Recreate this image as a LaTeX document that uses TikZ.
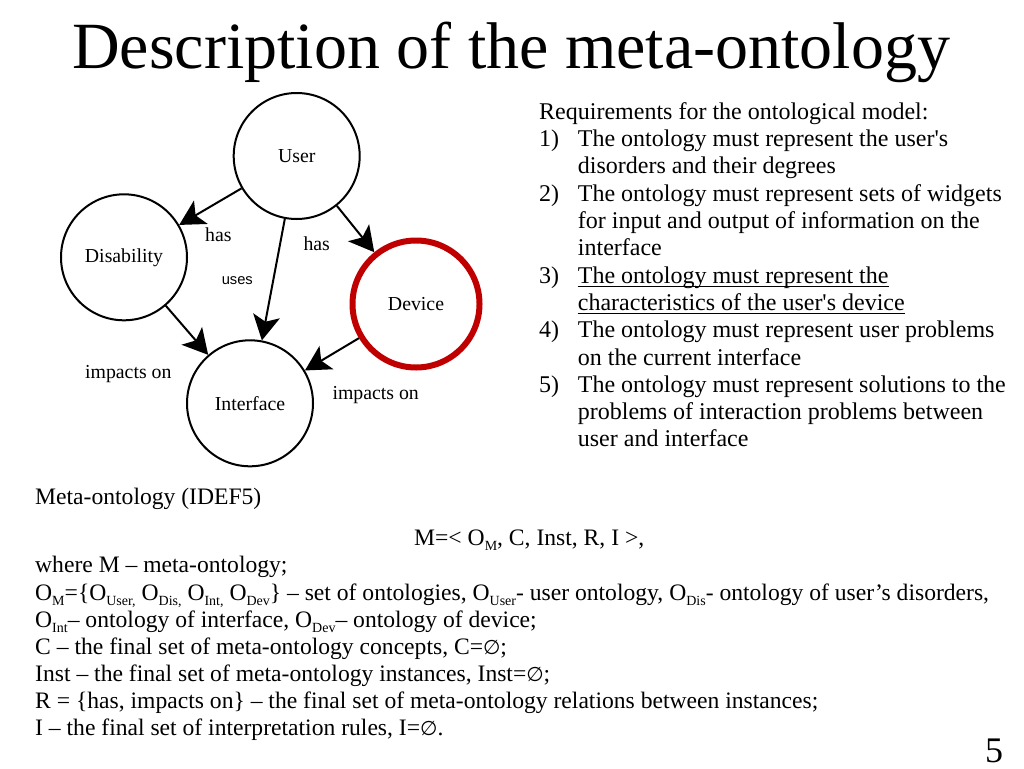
\documentclass[tikz,border=0pt]{standalone}
\usepackage{fontspec}
\setmainfont{Liberation Serif}
\newfontfamily\labsans{Liberation Sans}
\newfontfamily\symf{DejaVu Sans}
\usetikzlibrary{arrows.meta}
\definecolor{devred}{RGB}{192,0,0}
\newcommand{\mysub}[1]{\raisebox{-5pt}{\fontsize{14}{14}\selectfont #1}}
\newcommand{\myempty}{{\symf\fontsize{20}{24}\selectfont ∅}}
\begin{document}
\begin{tikzpicture}[x=1pt,y=-1pt,
  circ/.style={circle,draw,line width=2pt,minimum size=126pt,inner sep=0pt,font=\fontsize{19.8}{22}\selectfont},
  rel/.style={draw,line width=2pt,-{Stealth[length=25pt,width=27pt,inset=6pt]}},
  lab/.style={inner sep=0pt,font=\fontsize{19.8}{22}\selectfont},
  body/.style={inner sep=0pt,anchor=base west,font=\fontsize{24}{27}\selectfont},
  low/.style={inner sep=0pt,anchor=base west,font=\fontsize{23.6}{27}\selectfont},
  uline/.style={line width=1pt},
]
\useasboundingbox (0,0) rectangle (1024,768);

% title
\node[inner sep=0pt,anchor=base west,font=\fontsize{66}{70}\selectfont] (title) at (72,68) {Description of the meta-ontology};

% diagram
\node[circ] (user) at (296.7,156) {User};
\node[circ] (dis) at (124,257.3) {Disability};
\node[circ,draw=devred,line width=6pt,minimum size=127pt] (dev) at (416,304) {Device};
\node[circ] (intf) at (250,403.3) {Interface};

\draw[rel] (user) -- (dis);
\draw[rel] (user) -- (intf);
\draw[rel] (user) -- (dev);
\draw[rel] (dis) -- (intf);
\draw[rel] (dev) -- (intf);

\node[lab] (l1) at (218.3,234.3) {has};
\node[lab] (l2) at (316.7,244) {has};
\node[lab,font=\labsans\fontsize{14.7}{16}\selectfont] (l3) at (237.3,280.7) {uses};
\node[lab] (l4) at (128.3,374) {impacts on};
\node[lab] (l5) at (375.7,395.3) {impacts on};

% requirements
\node[body] (rq) at (539,119) {Requirements for the ontological model:};
\node[body] (n1) at (539,146.3) {1)};
\node[body] (r1a) at (577.7,146.3) {The ontology must represent the user\textquotesingle s};
\node[body] (r1b) at (577.7,173.6) {disorders and their degrees};
\node[body] (n2) at (539,201) {2)};
\node[body] (r2a) at (577.7,201) {The ontology must represent sets of widgets};
\node[body] (r2b) at (577.7,228.3) {for input and output of information on the};
\node[body] (r2c) at (577.7,255.6) {interface};
\node[body] (n3) at (539,283) {3)};
\node[body] (r3a) at (577.7,283) {The ontology must represent the};
\node[body] (r3b) at (577.7,310.3) {characteristics of the user\textquotesingle s device};
\node[body] (n4) at (539,337.6) {4)};
\node[body] (r4a) at (577.7,337.6) {The ontology must represent user problems};
\node[body] (r4b) at (577.7,365) {on the current interface};
\node[body] (n5) at (539,392.2) {5)};
\node[body] (r5a) at (577.7,392.2) {The ontology must represent solutions to the};
\node[body] (r5b) at (577.7,419.5) {problems of interaction problems between};
\node[body] (r5c) at (577.7,446.8) {user and interface};
\draw[uline] ([yshift=-3pt]r3a.base west) -- ([yshift=-3pt]r3a.base east);
\draw[uline] ([yshift=-3pt]r3b.base west) -- ([yshift=-3pt]r3b.base east);

% meta-ontology
\node[low] (mo) at (35,504) {Meta-ontology (IDEF5)};
\node[low] (mdef) at (414,545) {M=< O\mysub{M}, C, Inst, R, I >,};
\node[low] (w1) at (35,572) {where M – meta-ontology;};
\node[low] (w2) at (35,600) {O\mysub{M}=\{O\mysub{User,} O\mysub{Dis,} O\mysub{Int,} O\mysub{Dev}\} – set of ontologies, O\mysub{User}- user ontology, O\mysub{Dis}- ontology of user’s disorders,};
\node[low] (w3) at (35,627) {O\mysub{Int}– ontology of interface, O\mysub{Dev}– ontology of device;};
\node[low] (w4) at (35,654) {C – the final set of meta-ontology concepts, C=\myempty;};
\node[low] (w5) at (35,681) {Inst – the final set of meta-ontology instances, Inst=\myempty;};
\node[low] (w6) at (35,708) {R = \{has, impacts on\} – the final set of meta-ontology relations between instances;};
\node[low] (w7) at (35,735) {I – the final set of interpretation rules, I=\myempty.};
\node[inner sep=0pt,anchor=base west,font=\fontsize{36}{40}\selectfont] (pg) at (985,762) {5};
\end{tikzpicture}
\end{document}
